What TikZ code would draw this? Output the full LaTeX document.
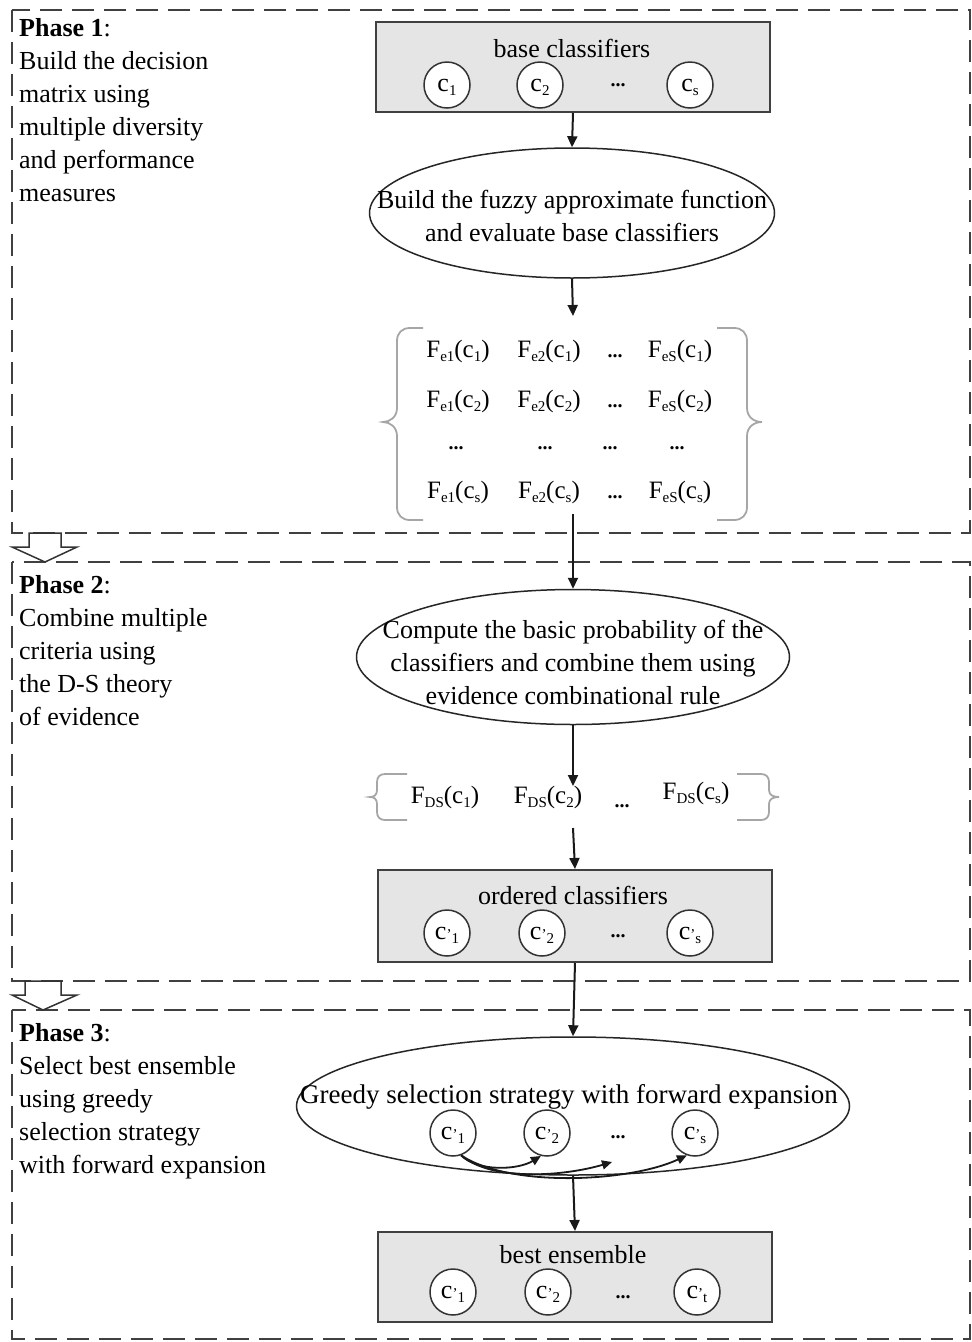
\documentclass[tikz,border=0pt]{standalone}
\usepackage{fontspec}
\setmainfont{Liberation Serif}
\usetikzlibrary{arrows.meta,shapes.geometric}
\newcommand\fbig{\fontsize{26}{33}\selectfont}
\newcommand\fmid{\fontsize{26}{28}\selectfont}
\newcommand\fent{\fontsize{25}{28}\selectfont}
\newcommand\lsub[1]{\raisebox{-0.4ex}{\fontsize{15}{15}\selectfont #1}}
\newcommand\Fe[2]{F\lsub{e#1}(c\lsub{#2})}
\newcommand\Fds[1]{F\lsub{DS}(c\lsub{#1})}
\newcommand\cc[1]{c\lsub{#1}}
\newcommand\cp[1]{c{\fontsize{15}{15}\selectfont ’}\lsub{#1}}
\newcommand\dotsx{{\fontsize{20}{20}\selectfont\bfseries ...}}
\tikzset{
  phasebox/.style={draw=black!75, line width=2pt, dash pattern=on 22pt off 10pt},
  hollowarr/.style={draw=black!80, fill=white, line width=1.5pt, line join=miter},
  gbox/.style={draw=black!75, fill=black!10, line width=2pt, rectangle, inner sep=0pt},
  ell/.style={draw=black!85, ellipse, line width=1.5pt, fill=white, inner sep=0pt},
  cls/.style={draw=black!80, circle, line width=1.5pt, fill=white, minimum size=46pt, inner sep=0pt, font=\fmid, text height=12pt, text depth=0pt},
  arr/.style={draw=black!90, line width=2pt, -{Triangle[length=11pt,width=10pt]}},
  carr/.style={draw=black!90, line width=1.8pt, -{Triangle[length=10pt,width=9pt]}},
  brace/.style={draw=black!35, line width=1.8pt},
  txt/.style={font=\fbig, inner sep=0pt},
  ent/.style={font=\fent, inner sep=0pt, anchor=base},
  dotn/.style={inner sep=0pt, anchor=base},
  lbl/.style={font=\fbig, align=left, inner sep=0pt, anchor=north west},
}
\begin{document}
\begin{tikzpicture}[x=1pt,y=1pt]
\useasboundingbox (0,0) rectangle (972,-1342);

% phase frames
\draw[phasebox] (12,-10) rectangle (970,-533);
\draw[phasebox] (12,-562) rectangle (970,-981);
\draw[phasebox] (12,-1010) rectangle (970,-1339);

% hollow arrows between phases
\draw[hollowarr] (29,-533) -- (61,-533) -- (61,-547) -- (77,-547) -- (45,-562) -- (12,-547) -- (29,-547) -- cycle;
\draw[hollowarr] (25,-981) -- (61,-981) -- (61,-995) -- (77,-995) -- (43,-1010) -- (12,-995) -- (25,-995) -- cycle;

% phase labels
\node[lbl] (p1) at (19,-18.5) {\textbf{Phase 1}:\\Build the decision\\matrix using\\multiple diversity\\and performance\\measures};
\node[lbl] (p2) at (19,-575.5) {\textbf{Phase 2}:\\Combine multiple\\criteria using\\the D-S theory\\of evidence};
\node[lbl] (p3) at (19,-1023.5) {\textbf{Phase 3}:\\Select best ensemble\\using greedy\\selection strategy\\with forward expansion};

% ---------- Phase 1 ----------
\node[gbox, minimum width=394pt, minimum height=90pt] (b1) at (573,-67) {};
\node[txt] (b1t) at (572,-48) {base classifiers};
\node[cls] (b1c1) at (447,-85) {\cc{1}};
\node[cls] (b1c2) at (540,-85) {\cc{2}};
\node[dotn] (b1d) at (618,-86) {\dotsx};
\node[cls] (b1c3) at (690,-85) {\cc{s}};

\node[ell, minimum width=405pt, minimum height=130pt] (e1) at (572,-213) {};
\node[txt, align=center] (e1t) at (572,-216) {Build the fuzzy approximate function\\and evaluate base classifiers};

% matrix
\coordinate (mtop) at (573,-316);
\coordinate (mbot) at (573,-514);
\draw[brace] (423,-328) -- (410,-328) .. controls (402,-328) and (397,-333) .. (397,-341) -- (397,-408) .. controls (397,-417) and (390,-422) .. (383,-422) .. controls (390,-422) and (397,-427) .. (397,-436) -- (397,-507) .. controls (397,-515) and (402,-520) .. (410,-520) -- (423,-520);
\draw[brace] (717,-328) -- (734,-328) .. controls (742,-328) and (747,-333) .. (747,-341) -- (747,-408) .. controls (747,-417) and (754,-422) .. (762,-422) .. controls (754,-422) and (747,-427) .. (747,-436) -- (747,-507) .. controls (747,-515) and (742,-520) .. (734,-520) -- (717,-520);

\node[ent] (m11) at (458,-357) {\Fe{1}{1}};
\node[ent] (m12) at (549,-357) {\Fe{2}{1}};
\node[dotn] (m13) at (615,-357) {\dotsx};
\node[ent] (m14) at (680,-357) {\Fe{S}{1}};
\node[ent] (m21) at (458,-407) {\Fe{1}{2}};
\node[ent] (m22) at (549,-407) {\Fe{2}{2}};
\node[dotn] (m23) at (615,-407) {\dotsx};
\node[ent] (m24) at (680,-407) {\Fe{S}{2}};
\node[dotn] (m31) at (456,-449) {\dotsx};
\node[dotn] (m32) at (545,-449) {\dotsx};
\node[dotn] (m33) at (610,-449) {\dotsx};
\node[dotn] (m34) at (677,-449) {\dotsx};
\node[ent] (m41) at (458,-498) {\Fe{1}{s}};
\node[ent] (m42) at (549,-498) {\Fe{2}{s}};
\node[dotn] (m43) at (615,-498) {\dotsx};
\node[ent] (m44) at (680,-498) {\Fe{S}{s}};

\draw[arr] (b1.south) -- (e1.north);
\draw[arr] (e1.south) -- (mtop);

% ---------- Phase 2 ----------
\node[ell, minimum width=433pt, minimum height=135pt] (e2) at (573,-657) {};
\node[txt, align=center] (e2t) at (573,-662) {Compute the basic probability of the\\classifiers and combine them using\\evidence combinational rule};

\draw[arr] (mbot) -- (e2.north);

\coordinate (dtop) at (573,-786);
\coordinate (dbot) at (573,-828);
\draw[brace] (407,-774) -- (385,-774) .. controls (380,-774) and (377,-777) .. (377,-782) -- (377,-790) .. controls (377,-795) and (374,-797) .. (370,-797) .. controls (374,-797) and (377,-799) .. (377,-804) -- (377,-812) .. controls (377,-817) and (380,-820) .. (385,-820) -- (407,-820);
\draw[brace] (737,-774) -- (761,-774) .. controls (766,-774) and (769,-777) .. (769,-782) -- (769,-790) .. controls (769,-795) and (773,-797) .. (779,-797) .. controls (773,-797) and (769,-799) .. (769,-804) -- (769,-812) .. controls (769,-817) and (766,-820) .. (761,-820) -- (737,-820);
\node[ent] (d1) at (445,-803) {\Fds{1}};
\node[ent] (d2) at (548,-803) {\Fds{2}};
\node[dotn] (d3) at (622,-807) {\dotsx};
\node[ent] (d4) at (696,-799) {\Fds{s}};

\draw[arr] (e2.south) -- (dtop);

\node[gbox, minimum width=394pt, minimum height=92pt] (b2) at (575,-916) {};
\node[txt] (b2t) at (573,-895) {ordered classifiers};
\node[cls] (b2c1) at (447,-933) {\cp{1}};
\node[cls] (b2c2) at (542,-933) {\cp{2}};
\node[dotn] (b2d) at (618,-937) {\dotsx};
\node[cls] (b2c3) at (690,-933) {\cp{s}};

\draw[arr] (dbot) -- (b2.north);

% ---------- Phase 3 ----------
\node[ell, minimum width=553pt, minimum height=138pt] (e3) at (573,-1106) {};
\node[txt, font=\fontsize{27}{30}\selectfont] (e3t) at (569,-1097) {Greedy selection strategy with forward expansion};
\node[cls] (g1) at (453,-1133) {\cp{1}};
\node[cls] (g2) at (547,-1133) {\cp{2}};
\node[dotn] (gd) at (618,-1138) {\dotsx};
\node[cls] (g3) at (695,-1133) {\cp{s}};
\coordinate (gdend) at (612,-1162);

\draw[carr] (g1.-70) .. controls (478,-1172) and (518,-1170) .. (g2.-105);
\draw[carr] (g1.-70) .. controls (492,-1182) and (565,-1176) .. (gdend);
\draw[carr] (g1.-70) .. controls (510,-1188) and (630,-1182) .. (g3.-110);

\draw[arr] (b2.south) -- (e3.north);

\node[gbox, minimum width=394pt, minimum height=90pt] (b3) at (575,-1277) {};
\node[txt] (b3t) at (573,-1255) {best ensemble};
\node[cls] (h1) at (453,-1292) {\cp{1}};
\node[cls] (h2) at (548,-1292) {\cp{2}};
\node[dotn] (hd) at (623,-1298) {\dotsx};
\node[cls] (h3) at (697,-1292) {\cp{t}};

\draw[arr] (e3.south) -- (b3.north);
\end{tikzpicture}
\end{document}
